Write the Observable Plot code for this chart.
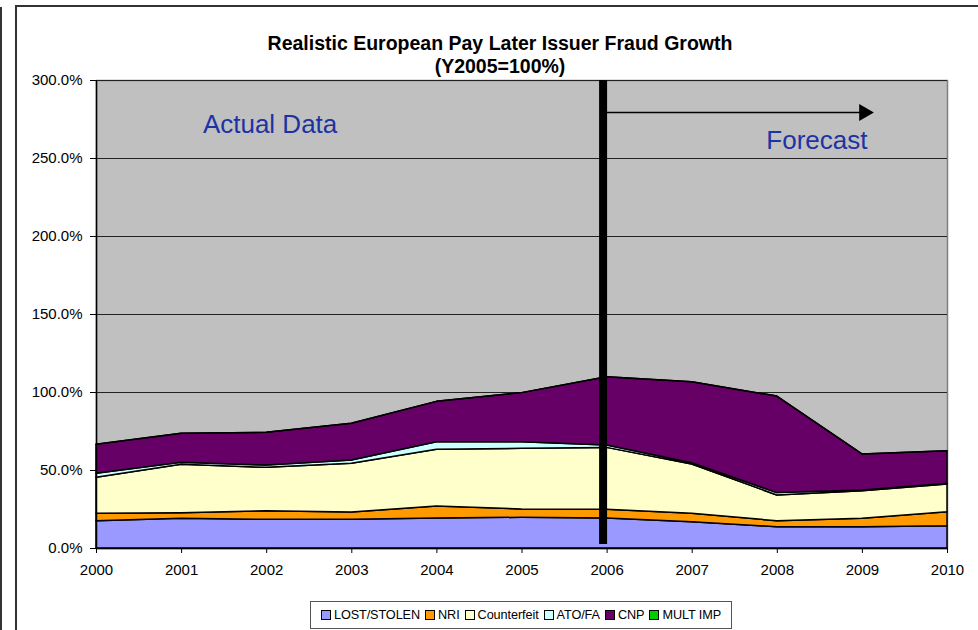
<!DOCTYPE html>
<html>
<head>
<meta charset="utf-8">
<script src="https://cdn.jsdelivr.net/npm/d3@7"></script>
<script src="https://cdn.jsdelivr.net/npm/@observablehq/plot@0.6"></script>
<style>
  html, body { margin: 0; padding: 0; background: #fff; }
  #wrap { position: relative; width: 978px; height: 630px; overflow: hidden; font-family: "Liberation Sans", Arial, sans-serif; }
  #wrap svg { position: absolute; left: 0; top: 0; }
  .edge { position: absolute; background: #333; }
  #title { position: absolute; left: 200px; width: 600px; top: 32px; text-align: center; font-weight: bold; font-size: 19.5px; line-height: 23px; color: #000; }
  #legend { position: absolute; left: 310px; top: 601px; width: 420px; height: 26px; border: 1px solid #555; background: #fff; display: flex; align-items: center; justify-content: center; gap: 5px; font-size: 12.7px; letter-spacing: -0.1px; }
  #legend .item { display: flex; align-items: center; white-space: nowrap; }
  #legend .sw { width: 8px; height: 8px; border: 1px solid #000; margin-right: 3px; }
</style>
</head>
<body>
<div id="wrap">
  <div class="edge" style="left:0;top:7px;width:2px;height:623px;"></div>
  <div class="edge" style="left:15px;top:5px;width:2px;height:625px;"></div>
  <div class="edge" style="left:15px;top:5px;width:963px;height:2px;"></div>
  <div id="title">Realistic European Pay Later Issuer Fraud Growth<br>(Y2005=100%)</div>
  <div id="legend"></div>
</div>
<script>
// ---- data (percent of Y2005 total) ----
const years = [2000, 2001, 2002, 2003, 2004, 2005, 2006, 2007, 2008, 2009, 2010];
const seriesNames = ["LOST/STOLEN", "NRI", "Counterfeit", "ATO/FA", "CNP", "MULT IMP"];
const seriesColors = ["#9999FF", "#FF9900", "#FFFFCC", "#CCFFFF", "#660066", "#00CC00"];
const lostStolen  = [17.5, 19.0, 18.4, 18.4, 19.2, 19.7, 19.2, 16.9, 13.7, 13.7, 14.3];
const nri         = [ 4.7,  3.6,  5.5,  4.7,  7.7,  5.3,  5.6,  5.3,  3.8,  5.3,  9.0];
const counterfeit = [23.1, 31.1, 27.8, 31.2, 36.4, 38.9, 39.7, 31.6, 16.5, 17.7, 17.7];
const atoFa       = [ 2.6,  1.2,  1.5,  2.1,  4.8,  4.2,  1.5,  0.9,  1.5,  0.5,  0.5];
const cnp         = [18.6, 18.6, 21.0, 23.6, 25.9, 31.5, 43.8, 51.9, 61.9, 23.1, 20.9];
const multImp     = [ 0,    0,    0,    0,    0,    0,    0,    0,    0,    0,    0  ];
const yTicks = [0, 50, 100, 150, 200, 250, 300];

// annotations
const forecastYear = 2006;
const arrowLine = [{x1: 2006, x2: 2009.0, y: 279.5}];
const arrowHead = [{x: 2009.02, y: 279.5}];
const noteActual = [{x: 2001.25, y: 272, text: "Actual Data"}];
const noteForecast = [{x: 2009.06, y: 261.5, text: "Forecast"}];

const seriesValues = [lostStolen, nri, counterfeit, atoFa, cnp, multImp];
const data = [];
seriesNames.forEach((s, i) => years.forEach((yr, j) => data.push({series: s, year: yr, value: seriesValues[i][j]})));

const chart = Plot.plot({
  width: 978,
  height: 630,
  marginLeft: 96,
  marginRight: 31,
  marginTop: 80,
  marginBottom: 82,
  style: {fontFamily: "'Liberation Sans', Arial, sans-serif", fontSize: "15px", background: "transparent", color: "#000"},
  x: {domain: [2000, 2010], label: null},
  y: {domain: [0, 300], label: null},
  color: {domain: seriesNames, range: seriesColors},
  marks: [
    Plot.frame({fill: "#C0C0C0", stroke: "#808080", strokeWidth: 1.5}),
    Plot.gridY(yTicks, {stroke: "#222", strokeOpacity: 1, strokeWidth: 1}),
    Plot.areaY(data, {x: "year", y: "value", z: "series", fill: "series", stroke: "#000", strokeWidth: 1.5, order: seriesNames}),
    Plot.ruleX([forecastYear], {stroke: "#000", strokeWidth: 8, dx: -4, insetBottom: 4}),
    Plot.ruleY(arrowLine, {x1: "x1", x2: "x2", y: "y", stroke: "#000", strokeWidth: 1.5}),
    Plot.dot(arrowHead, {x: "x", y: "y", symbol: "triangle", r: 6.3, rotate: 90, fill: "#000", stroke: "none"}),
    Plot.text(noteActual, {x: "x", y: "y", text: "text", textAnchor: "start", fontSize: 26, fill: "#1c34a3"}),
    Plot.text(noteForecast, {x: "x", y: "y", text: "text", textAnchor: "end", fontSize: 26, fill: "#1c34a3"}),
    Plot.ruleY([0], {stroke: "#000", strokeWidth: 1.5}),
    Plot.ruleX([2000], {stroke: "#000", strokeWidth: 1.5}),
    Plot.axisY({ticks: yTicks, tickFormat: d => d.toFixed(1) + "%", tickSize: 6, tickPadding: 8, fontSize: 15, label: null}),
    Plot.axisX({ticks: years, tickFormat: d => String(d), tickSize: 5, tickPadding: 11, fontSize: 15, label: null})
  ]
});
document.getElementById("wrap").prepend(chart);

const legend = document.getElementById("legend");
seriesNames.forEach((s, i) => {
  const it = document.createElement("div");
  it.className = "item";
  const sw = document.createElement("div");
  sw.className = "sw";
  sw.style.background = seriesColors[i];
  it.appendChild(sw);
  it.appendChild(document.createTextNode(s));
  legend.appendChild(it);
});
</script>
</body>
</html>
